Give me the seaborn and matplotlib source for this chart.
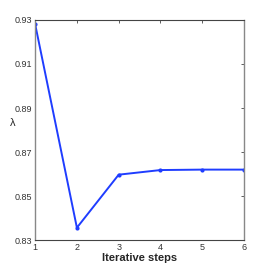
import matplotlib
matplotlib.use("Agg")
import matplotlib.pyplot as plt
import seaborn as sns
import pandas as pd

# data
steps = [1, 2, 3, 4, 5, 6]
lam = [0.9282, 0.8356, 0.8597, 0.8618, 0.8620, 0.8620]
y_ticks = [0.83, 0.85, 0.87, 0.89, 0.91, 0.93]

sns.set_theme(style="white")
plt.rcParams["font.family"] = ["Liberation Sans", "DejaVu Sans"]

df = pd.DataFrame({"step": steps, "lam": lam})

fig = plt.figure(figsize=(2.7, 2.7), dpi=100)
ax = fig.add_axes([0.13, 0.111, 0.774, 0.815])
sns.lineplot(data=df, x="step", y="lam", ax=ax, color="#1f3dff",
             linewidth=1.4, marker="o", markersize=3, markeredgewidth=0)

ax.set_xlim(1, 6)
ax.set_ylim(0.83, 0.93)
ax.set_xticks(steps)
ax.set_yticks(y_ticks)
ax.set_yticklabels([f"{v:.2f}" for v in y_ticks])
ax.tick_params(direction="in", length=2.5, width=0.6, labelsize=6.5,
               colors="#444444", top=True, right=True, pad=2)
ax.tick_params(labelcolor="#333333")
for side in ["left", "right"]:
    ax.spines[side].set_color("#888888")
    ax.spines[side].set_linewidth(1.0)
for side in ["top", "bottom"]:
    ax.spines[side].set_color("#444444")
    ax.spines[side].set_linewidth(0.8)

ax.set_xlabel("Iterative steps", fontsize=8, fontweight="bold", labelpad=1)
ax.set_ylabel("λ", fontsize=8, rotation=0, va="center", ha="center")
ax.yaxis.set_label_coords(-0.105, 0.53)

fig.savefig("out.png", dpi=100)
